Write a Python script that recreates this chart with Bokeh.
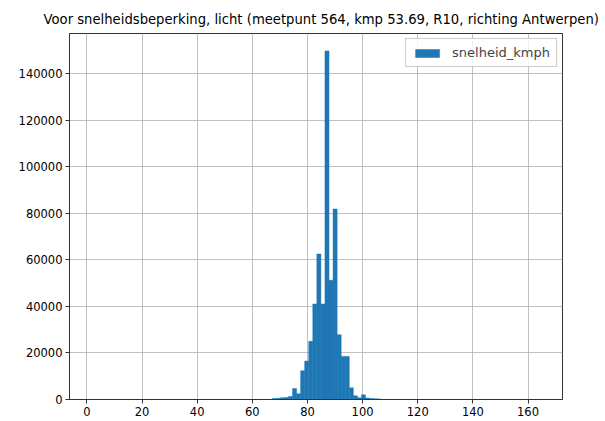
from bokeh.plotting import figure
from bokeh.models import Range1d, FixedTicker, BasicTickFormatter, Legend, LegendItem, ColumnDataSource
from bokeh.embed import file_html
from bokeh.resources import INLINE

# ---- data ----
title_text = "Voor snelheidsbeperking, licht (meetpunt 564, kmp 53.69, R10, richting Antwerpen)"
series_name = "snelheid_kmph"
bin_start = 67.24      # left edge of first non-empty bin (km/h)
bin_width = 1.47       # histogram bin width (km/h)
counts = [400, 500, 700, 900, 1300, 4700, 2500, 12300, 16500, 25000,
          41000, 62500, 41000, 149700, 51200, 81800, 27800, 18500, 18500,
          5000, 1600, 700, 2000, 600, 400, 300, 200]
x_ticks = [0, 20, 40, 60, 80, 100, 120, 140, 160]
y_ticks = [0, 20000, 40000, 60000, 80000, 100000, 120000, 140000]

lefts = [bin_start + i * bin_width for i in range(len(counts))]
rights = [l + bin_width for l in lefts]
src = ColumnDataSource(dict(left=lefts, right=rights, top=counts, bottom=[0] * len(counts)))

FONT = "DejaVu Sans"

p = figure(width=604, height=420, output_backend="svg", toolbar_location=None,
           x_range=Range1d(-6.3, 172.5), y_range=Range1d(0, 157200),
           min_border_left=69, min_border_right=42, min_border_top=33, min_border_bottom=21)

p.title.text = title_text
p.title.align = "left"
p.title.offset = -26
p.title.standoff = 14
p.title.text_font = FONT
p.title.text_font_size = "13.2px"
p.title.text_font_style = "normal"
p.title.text_color = "#000000"

r = p.quad(left="left", right="right", top="top", bottom="bottom", source=src,
           fill_color="#1f77b4", line_color="#1f77b4", line_width=0.5)

for ax, ticks in ((p.xaxis, x_ticks), (p.yaxis, y_ticks)):
    ax.ticker = FixedTicker(ticks=ticks)
    ax.major_label_text_font = FONT
    ax.major_label_text_font_size = "11.5px"
    ax.major_label_text_color = "#000000"
    ax.major_tick_in = 0
    ax.major_tick_out = 4
    ax.minor_tick_in = 0
    ax.minor_tick_out = 0
    ax.major_tick_line_color = "#333333"
    ax.axis_line_color = "#333333"
    ax.major_label_standoff = 3
p.yaxis.formatter = BasicTickFormatter(use_scientific=False)

p.xgrid.ticker = FixedTicker(ticks=x_ticks)
p.ygrid.ticker = FixedTicker(ticks=y_ticks)
p.grid.grid_line_color = "#b0b0b0"
p.grid.grid_line_width = 0.8
p.outline_line_color = "#333333"
p.outline_line_width = 1
p.background_fill_color = "white"
p.border_fill_color = "white"

legend = Legend(items=[LegendItem(label=series_name, renderers=[r])], location="top_right")
legend.label_text_font = FONT
legend.label_text_font_size = "13px"
legend.glyph_width = 30
legend.glyph_height = 10
legend.label_height = 12
legend.padding = 6
legend.margin = 5
legend.label_standoff = 10
legend.border_line_color = "#cccccc"
legend.border_line_alpha = 1
legend.background_fill_alpha = 0.8
p.add_layout(legend)

open("out.html", "w").write(file_html(p, INLINE))
